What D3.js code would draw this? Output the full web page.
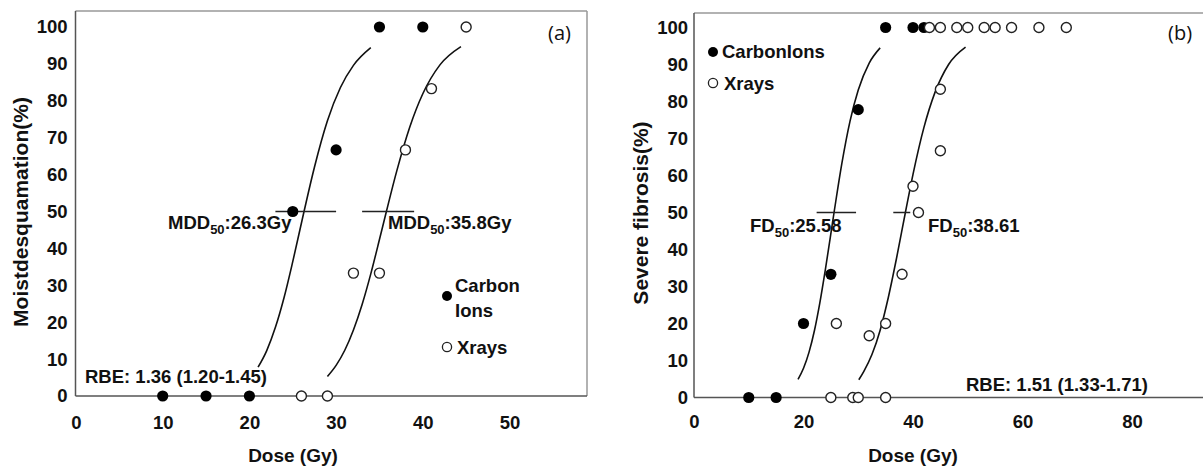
<!DOCTYPE html>
<html><head><meta charset="utf-8">
<script src="https://cdn.jsdelivr.net/npm/d3@7"></script>
<style>
body{margin:0;background:#fff;}
</style></head>
<body><svg id="c" width="1203" height="467"></svg>
<script>
// ---------- data ----------
const pctTicks = [0,10,20,30,40,50,60,70,80,90,100];
const doseTicksA = [0,10,20,30,40,50];
const doseTicksB = [0,20,40,60,80];

// Panel (a) moist desquamation
const carbonA_dose = [10,15,20,25,30,35,40];
const carbonA_pct  = [0,0,0,50,66.7,100,100];
const xrayA_dose   = [26,29,32,35,38,41,45];
const xrayA_pct    = [0,0,33.3,33.3,66.7,83.3,100];
const fitCarbonA_dose = [21,22,23,24,25,26.3,27.5,29,30.5,32,34];
const fitCarbonA_pct  = [7.8,12.3,18.6,26.7,36.4,50,62,74.6,83.6,89.6,94.4];
const fitXrayA_dose = [29,30,31,32,33,34,35,35.8,37,38.5,40,42,44.4];
const fitXrayA_pct  = [5.3,8.3,12.4,17.9,24.8,33.1,42.4,50,61,72.9,81.9,89.8,94.7];
const d50A_carbon = [23,30];
const d50A_xray = [33,39];

// Panel (b) severe fibrosis
const carbonB_dose = [10,15,20,25,30,35,40,42];
const carbonB_pct  = [0,0,20,33.3,77.8,100,100,100];
const xrayB_dose = [25,29,30,35,26,32,35,38,40,41,45,45,43,45,48,50,53,55,58,63,68];
const xrayB_pct  = [0,0,0,0,20,16.7,20,33.3,57.1,50,66.7,83.3,100,100,100,100,100,100,100,100,100];
const fitCarbonB_dose = [19,20,21,22,23,24,25.58,27,28.5,30,32,34];
const fitCarbonB_pct  = [4.9,7.9,12.2,18.1,25.7,34.6,50,63.2,74.7,83.1,90.4,94.5];
const fitXrayB_dose = [30.1,31,32.5,34,35.5,37,38.61,40,42,44,46.5,49.6];
const fitXrayB_pct  = [4.8,7,11.6,18.2,27.1,37.7,50,60.3,73,82.4,90,94.7];
const d50B_carbon = [22.4,29.6];
const d50B_xray = [36.4,39.5];

// ---------- drawing ----------
const FONT = "Liberation Sans, Arial, sans-serif";
const svg = d3.select("#c");
svg.append("rect").attr("width",1203).attr("height",467).attr("fill","#fff");

function txt(sel){
  return sel.style("font-family",FONT).style("font-weight","bold").attr("fill","#111");
}

function panel(o){
  const g = svg.append("g");
  const x = d3.scaleLinear().domain(o.xDomain).range(o.xRange);
  const y = d3.scaleLinear().domain([0,100]).range(o.yRange);
  // frame
  g.append("line").attr("x1",o.left).attr("x2",o.right).attr("y1",o.top).attr("y2",o.top).attr("stroke","#999").attr("stroke-width",1.5);
  if(o.right<1203) g.append("line").attr("x1",o.right).attr("x2",o.right).attr("y1",o.top).attr("y2",y(0)).attr("stroke","#999").attr("stroke-width",1.5);
  g.append("line").attr("x1",o.left).attr("x2",o.right).attr("y1",y(0)).attr("y2",y(0)).attr("stroke","#555").attr("stroke-width",1.5);
  g.append("line").attr("x1",o.left).attr("x2",o.left).attr("y1",o.top).attr("y2",y(0)).attr("stroke","#555").attr("stroke-width",1.5);
  // axes (labels only)
  const ya = g.append("g").attr("transform",`translate(${o.left},0)`)
    .call(d3.axisLeft(y).tickValues(pctTicks).tickSize(0).tickPadding(o.yPad));
  ya.select(".domain").remove();
  txt(ya.selectAll("text")).attr("font-size",18.5);
  const xa = g.append("g").attr("transform",`translate(0,${y(0)})`)
    .call(d3.axisBottom(x).tickValues(o.xTicks).tickSize(0).tickPadding(o.xPad));
  xa.select(".domain").remove();
  txt(xa.selectAll("text")).attr("font-size",18.5);
  // axis titles
  txt(g.append("text")).attr("x",o.xTitleX).attr("y",462).attr("text-anchor","middle").attr("font-size",19).text("Dose (Gy)");
  txt(g.append("text")).attr("transform",`translate(${o.yTitleX},${o.yTitleY}) rotate(-90)`).attr("text-anchor","middle").attr("font-size",21).text(o.yTitle);
  // fit curves
  const line = d3.line().x(d=>x(d[0])).y(d=>y(d[1])).curve(d3.curveMonotoneX);
  o.fits.forEach(f=>{
    g.append("path").attr("d",line(f[0].map((d,i)=>[d,f[1][i]]))).attr("fill","none").attr("stroke","#111").attr("stroke-width",1.6);
  });
  o.d50.forEach(s=>{
    g.append("line").attr("x1",x(s[0])).attr("x2",x(s[1])).attr("y1",y(50)).attr("y2",y(50)).attr("stroke","#222").attr("stroke-width",1.5);
  });
  // points
  o.carbon[0].forEach((d,i)=>{
    g.append("circle").attr("cx",x(d)).attr("cy",y(o.carbon[1][i])).attr("r",5.6).attr("fill","#000");
  });
  o.xray[0].forEach((d,i)=>{
    g.append("circle").attr("cx",x(d)).attr("cy",y(o.xray[1][i])).attr("r",5).attr("fill","#fff").attr("stroke","#222").attr("stroke-width",1.4);
  });
  return {g,x,y};
}

const A = panel({
  xDomain:[0,50], xRange:[76,509.5], yRange:[396,27], left:75.5, right:587, top:11,
  xTicks:doseTicksA, yPad:8, xPad:20, xTitleX:293, yTitleX:28, yTitleY:212,
  yTitle:"Moistdesquamation(%)",
  fits:[[fitCarbonA_dose,fitCarbonA_pct],[fitXrayA_dose,fitXrayA_pct]],
  d50:[d50A_carbon,d50A_xray],
  carbon:[carbonA_dose,carbonA_pct], xray:[xrayA_dose,xrayA_pct]
});
const B = panel({
  xDomain:[0,80], xRange:[694,1132], yRange:[397.5,27.5], left:694, right:1203, top:13,
  xTicks:doseTicksB, yPad:6, xPad:17, xTitleX:913, yTitleX:648, yTitleY:213,
  yTitle:"Severe fibrosis(%)",
  fits:[[fitCarbonB_dose,fitCarbonB_pct],[fitXrayB_dose,fitXrayB_pct]],
  d50:[d50B_carbon,d50B_xray],
  carbon:[carbonB_dose,carbonB_pct], xray:[xrayB_dose,xrayB_pct]
});

function sub(x,y,pre,s,post){
  const t = txt(svg.append("text")).attr("x",x).attr("y",y).attr("font-size",18.5);
  t.append("tspan").text(pre);
  t.append("tspan").attr("font-size",13).attr("dy",5).text(s);
  t.append("tspan").attr("dy",-5).text(post);
}
sub(168,229,"MDD","50",":26.3Gy");
sub(388,229,"MDD","50",":35.8Gy");
sub(750,232,"FD","50",":25.58");
sub(928,232,"FD","50",":38.61");

txt(svg.append("text")).attr("x",85).attr("y",383).attr("font-size",18.5).text("RBE: 1.36 (1.20-1.45)");
txt(svg.append("text")).attr("x",966).attr("y",391).attr("font-size",18.5).text("RBE: 1.51 (1.33-1.71)");

svg.append("text").attr("x",548).attr("y",40).attr("font-size",20).style("font-family","Open Sans, sans-serif").style("font-weight","normal").attr("fill","#111").text("(a)");
svg.append("text").attr("x",1168).attr("y",40).attr("font-size",20).style("font-family","Open Sans, sans-serif").style("font-weight","normal").attr("fill","#111").text("(b)");

// legends
svg.append("circle").attr("cx",447).attr("cy",296).attr("r",5).attr("fill","#000");
txt(svg.append("text")).attr("x",455).attr("y",292).attr("font-size",18.5).text("Carbon");
txt(svg.append("text")).attr("x",455).attr("y",317).attr("font-size",18.5).text("Ions");
svg.append("circle").attr("cx",447).attr("cy",347).attr("r",4.6).attr("fill","#fff").attr("stroke","#222").attr("stroke-width",1.3);
txt(svg.append("text")).attr("x",457).attr("y",354).attr("font-size",18.5).text("Xrays");

svg.append("circle").attr("cx",713).attr("cy",52).attr("r",5).attr("fill","#000");
txt(svg.append("text")).attr("x",722).attr("y",58).attr("font-size",18.5).text("CarbonIons");
svg.append("circle").attr("cx",713).attr("cy",83).attr("r",4.6).attr("fill","#fff").attr("stroke","#222").attr("stroke-width",1.3);
txt(svg.append("text")).attr("x",724).attr("y",90).attr("font-size",18.5).text("Xrays");
</script></body></html>
